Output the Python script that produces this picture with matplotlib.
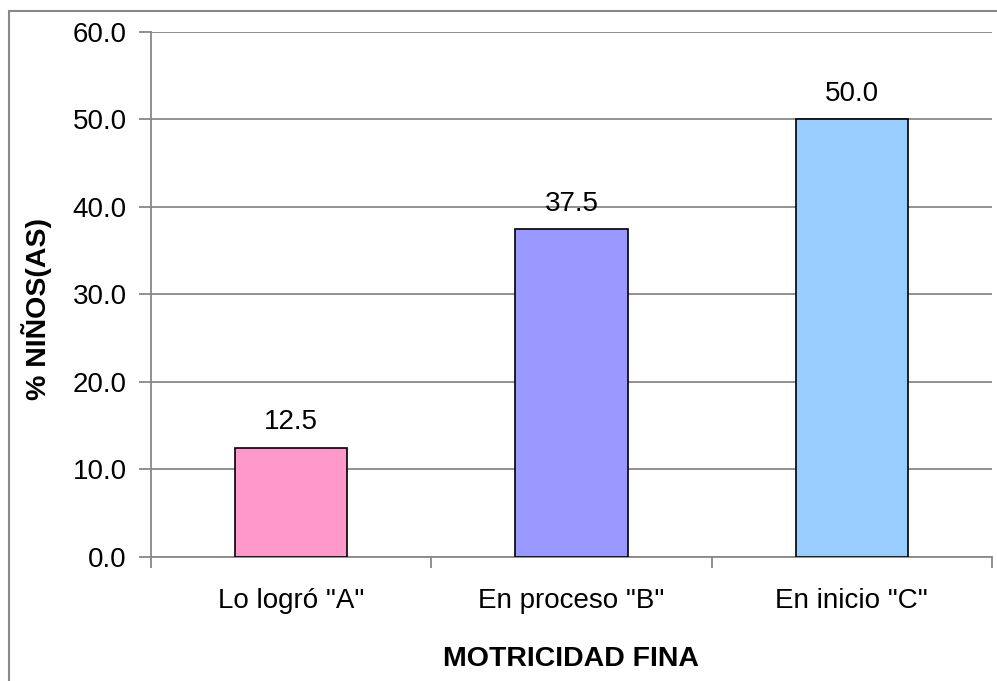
import matplotlib.pyplot as plt
from matplotlib.patches import Rectangle

# Datos
categorias = ['Lo logró "A"', 'En proceso "B"', 'En inicio "C"']
porcentajes = [12.5, 37.5, 50.0]
colores = ['#FF99CC', '#9999FF', '#99CCFF']
y_ticks = [0, 10, 20, 30, 40, 50, 60]

plt.rcParams['font.family'] = ['Liberation Sans', 'DejaVu Sans']

fig = plt.figure(figsize=(9.97, 6.81), dpi=100)
ax = fig.add_axes([151 / 997, 1 - 557 / 681, (992 - 151) / 997, (557 - 31.5) / 681])

x = range(len(categorias))
bars = ax.bar(x, porcentajes, width=0.4, color=colores, edgecolor='black', linewidth=1.2, zorder=3)

for b, v in zip(bars, porcentajes):
    ax.annotate(f'{v:.1f}', (b.get_x() + b.get_width() / 2, v), xytext=(0, 13),
                textcoords='offset points', ha='center', va='baseline', fontsize=20)

ax.set_xlim(-0.5, 2.5)
ax.set_ylim(0, 60)
ax.set_yticks(y_ticks)
ax.set_yticklabels([f'{t:.1f}' for t in y_ticks])
ax.yaxis.grid(True, color='#888888', linewidth=1.3, zorder=0)

# ticks at category boundaries, labels centred
ax.set_xticks([-0.5, 0.5, 1.5, 2.5])
ax.set_xticklabels([])
ax.set_xticks(list(x), minor=True)
ax.set_xticklabels(categorias, minor=True)
ax.tick_params(axis='x', which='major', length=8, width=1.3, color='#888888', direction='out')
ax.tick_params(axis='x', which='minor', length=0, pad=22, labelsize=20)
ax.tick_params(axis='y', length=8.5, width=1.3, color='#888888', pad=9, labelsize=20)

for s in ['top', 'right']:
    ax.spines[s].set_visible(False)
for s in ['left', 'bottom']:
    ax.spines[s].set_color('#888888')
    ax.spines[s].set_linewidth(1.3)

fig.text(571 / 997, 1 - 659 / 681, 'MOTRICIDAD FINA', ha='center', va='center',
         fontsize=20.5, fontweight='bold')
fig.text(37 / 997, 1 - 309.5 / 681, '% NIÑOS(AS)', ha='center', va='center',
         rotation=90, fontsize=20.5, fontweight='bold')

# marco exterior del gráfico
fig.patches.append(Rectangle((9 / 997, -0.05), 1.1, 1 - 11 / 681 + 0.05, transform=fig.transFigure,
                             fill=False, edgecolor='#888888', linewidth=1.5))

fig.savefig('out.png', dpi=100)
